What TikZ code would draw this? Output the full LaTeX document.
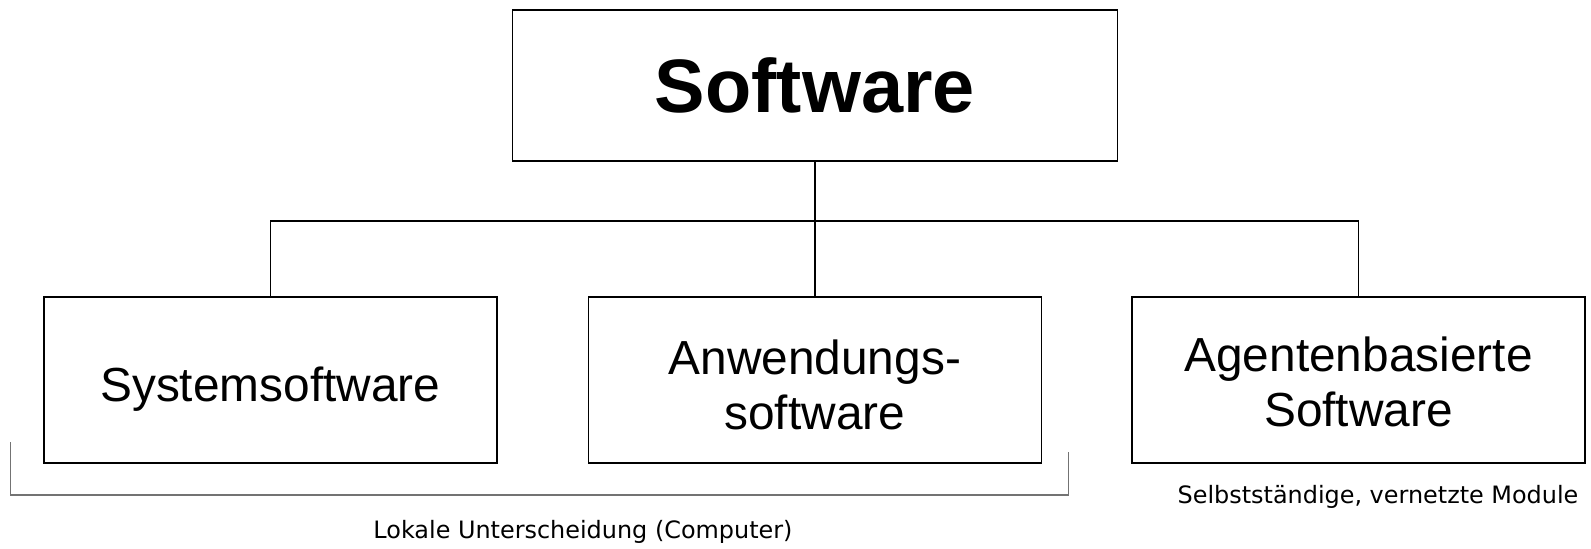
\documentclass[tikz,border=0pt]{standalone}
\usepackage{fontspec}
\setmainfont{Liberation Sans}
\newfontfamily\notefont{DejaVu Sans}
\begin{document}
\begin{tikzpicture}[x=1bp,y=-1bp,
  box/.style={draw=black,line width=1.6bp,fill=white,inner sep=0pt,
    minimum width=453bp,minimum height=166bp},
  boxtext/.style={inner sep=0pt,align=center,font=\fontsize{48}{55}\selectfont},
  link/.style={draw=black,line width=1.6bp},
  brace/.style={draw=black!55,line width=1.4bp},
  note/.style={font=\notefont\fontsize{24}{28}\selectfont,inner sep=0pt}]
\useasboundingbox (0,0) rectangle (1591,549);
% top node
\node[draw=black,line width=1.6bp,fill=white,inner sep=0pt,
  minimum width=605bp,minimum height=151bp,font=\bfseries\fontsize{76}{80}\selectfont]
  (sw) at (814.8,85.7) {Software};
% second level boxes
\node[box] (sys) at (270.3,380) {};
\node[box] (anw) at (814.8,380) {};
\node[box] (agt) at (1358.5,380) {};
\node[boxtext] (systx) at ([yshift=-9bp]sys.center) {Systemsoftware};
\node[boxtext] (anwtx) at ([yshift=-5bp]anw.center) {Anwendungs-\\software};
\node[boxtext] (agttx) at ([yshift=-2bp]agt.center) {Agentenbasierte\\Software};
% tree connectors
\coordinate (bus) at (814.8,221);
\draw[link] (sw.south) -- (bus);
\draw[link] (sys.north) |- (bus) -| (agt.north);
\draw[link] (anw.north) -- (bus);
% bracket under the first two boxes
\coordinate (bl) at (10.5,442);
\coordinate (br) at (1068.5,452);
\draw[brace] (bl) -- (10.5,495) -- (1068.5,495) -- (br);
\node[note] (lok) at (583,532) {Lokale Unterscheidung (Computer)};
\node[note] (mod) at (1378,497) {Selbstständige, vernetzte Module};
\end{tikzpicture}
\end{document}
